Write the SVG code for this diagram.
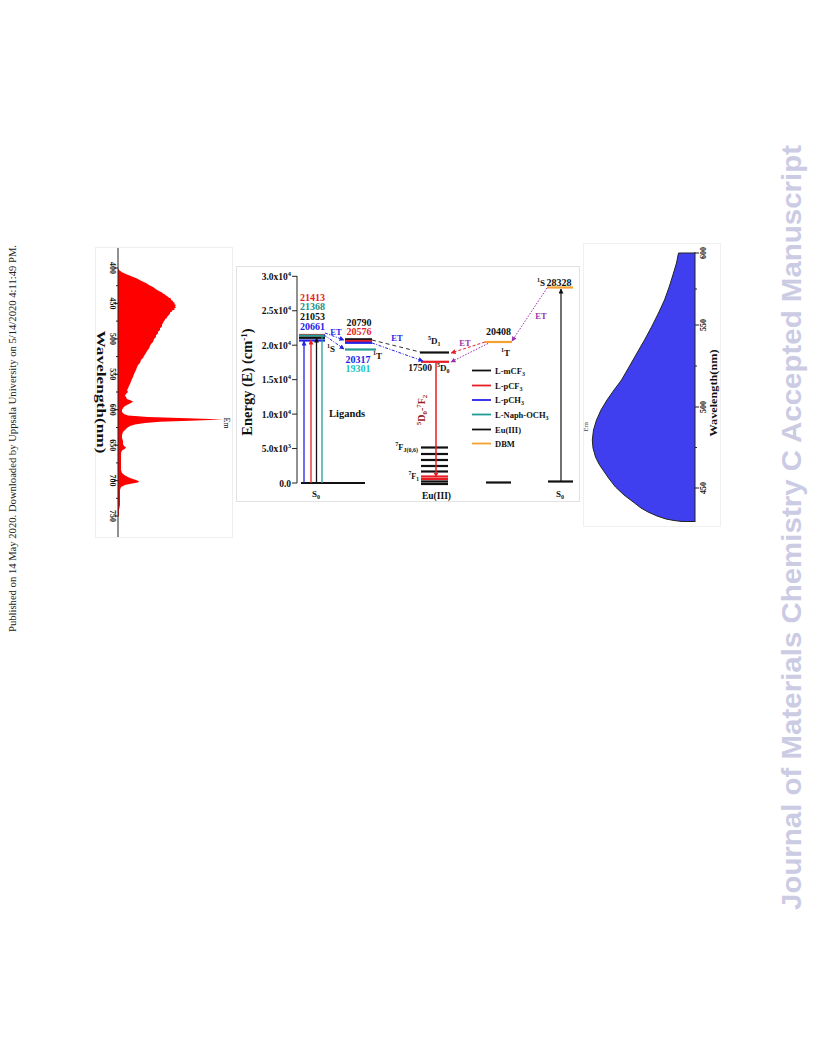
<svg xmlns="http://www.w3.org/2000/svg" width="816" height="1056" viewBox="0 0 816 1056">
<style>
.s{font-family:"Liberation Serif","Times New Roman",serif;font-weight:bold;}
.n{font-family:"Liberation Serif","Times New Roman",serif;}
.lv{stroke-width:2.2;fill:none;}
.k{stroke:#111;} .r{stroke:#e81e25;} .b{stroke:#2323e6;} .g{stroke:#1e9e96;} .o{stroke:#f5a030;}
.ax{stroke:#222;stroke-width:1;fill:none;}
</style>
<defs>
<marker id="aB" viewBox="0 0 10 10" refX="9" refY="5" markerWidth="5" markerHeight="5" orient="auto" markerUnits="userSpaceOnUse"><path d="M0,0L10,5L0,10z" fill="#2323e6"/></marker>
<marker id="aR" viewBox="0 0 10 10" refX="9" refY="5" markerWidth="5" markerHeight="5" orient="auto" markerUnits="userSpaceOnUse"><path d="M0,0L10,5L0,10z" fill="#e81e25"/></marker>
<marker id="aK" viewBox="0 0 10 10" refX="9" refY="5" markerWidth="5" markerHeight="5" orient="auto" markerUnits="userSpaceOnUse"><path d="M0,0L10,5L0,10z" fill="#111"/></marker>
<marker id="aP" viewBox="0 0 10 10" refX="9" refY="5" markerWidth="5" markerHeight="5" orient="auto" markerUnits="userSpaceOnUse"><path d="M0,0L10,5L0,10z" fill="#9b2fae"/></marker>
</defs>
<rect width="816" height="1056" fill="#fff"/>

<!-- margin texts -->
<text class="n" transform="translate(16,632) rotate(-90)" font-size="10.5" textLength="387" lengthAdjust="spacingAndGlyphs" fill="#222">Published on 14 May 2020. Downloaded by Uppsala University on 5/14/2020 4:11:49 PM.</text>
<text transform="translate(801,910) rotate(-90)" font-family="Liberation Sans, Arial, sans-serif" font-weight="bold" font-size="27" textLength="765" lengthAdjust="spacingAndGlyphs" fill="#cbcbe4">Journal of Materials Chemistry C Accepted Manuscript</text>

<!-- left emission spectrum -->
<g id="left-spectrum">
<rect x="95.5" y="247.5" width="137" height="290" fill="#fff" stroke="#eeeeee"/>
<path fill="#ff0000" d="M118,268 L119,270 L122,272.3 L127,274.4 L132,276.5 L137,278.6 L141,280.8 L146,282.9 L149,285 L153,287.1 L156,289.3 L158,290.5 L160,291.4 L162,292.5 L163,293.5 L165,294.5 L166,295.6 L168,296.7 L169,297.8 L171,298.5 L171,299.9 L173,301 L173,302 L175,303 L174,304.1 L176,305 L175,306.3 L176,307.5 L174,308.4 L175,309.5 L172,310.5 L172,311.6 L170,312.6 L170,313.7 L169,314.8 L168,316 L167,316.9 L167,318 L165,319 L165,320 L164,321.1 L163,323 L162,324.7 L162,326.4 L160,328.2 L160,330 L158,331.8 L158,333.5 L156,335.3 L156,337 L154,338.9 L153,342 L151,344 L150,346 L149,348.5 L147,351 L146,353 L144,356 L143,358 L141,360.1 L140,363 L138,365 L137,367.2 L136,370 L135,372 L134,374.3 L133,377 L132,379 L131,381.4 L130,384 L129,386 L128,388.5 L127,390 L128,392 L126,394 L125,395.5 L126,397 L127,399.1 L131,400.5 L133,401.5 L131,403 L128,404.5 L125,406 L123,408 L122,410 L122,412 L124,414 L128,415.5 L148,417 L188,418.3 L223,419.6 L190,420.8 L160,421.8 L145,423 L135,424.5 L130,426 L127,428 L125,430 L123,432 L122,435 L122,438 L123,441 L123,444 L124,446 L126,447.3 L125,448.8 L122,450.5 L121,453 L121,458 L121,465 L121,470 L122,473 L125,475.5 L130,478 L136,480 L139,481.3 L138,482.5 L132,483.5 L125,485 L121,487 L120,490 L120,495 L120,500 L120,505 L119,510 L119,516 L118,517 Z"/>
<line class="ax" x1="118" y1="248" x2="118" y2="537"/>
<path class="ax" d="M114,268H118M114,303.4H118M114,338.9H118M114,374.3H118M114,409.7H118M114,445.2H118M114,480.6H118M114,516H118M116,285.7H118M116,321.1H118M116,356.6H118M116,392H118M116,427.5H118M116,462.9H118M116,498.3H118"/>
<g class="s" font-size="8" text-anchor="middle" fill="#111">
<text transform="translate(110,268) rotate(90)">400</text>
<text transform="translate(110,303.4) rotate(90)">450</text>
<text transform="translate(110,338.9) rotate(90)">500</text>
<text transform="translate(110,374.3) rotate(90)">550</text>
<text transform="translate(110,409.7) rotate(90)">600</text>
<text transform="translate(110,445.2) rotate(90)">650</text>
<text transform="translate(110,480.6) rotate(90)">700</text>
<text transform="translate(110,516) rotate(90)">750</text>
</g>
<text class="s" transform="translate(97,392) rotate(90)" font-size="11.5" text-anchor="middle" textLength="123" lengthAdjust="spacingAndGlyphs" fill="#111">Wavelength(nm)</text>
<text class="n" transform="translate(224,423) rotate(90)" font-size="8" text-anchor="middle" fill="#111">Em</text>
</g>

<!-- right emission spectrum -->
<g id="right-spectrum">
<rect x="583.5" y="243.5" width="137" height="283" fill="#fff" stroke="#f0f0f0"/>
<path fill="#3f3ff0" stroke="#222" stroke-width="1" d="M695,253 L678.5,253 L676.5,263 L673.5,273 L669.5,286 L664.5,300 L658.5,313 L651.5,327 L644.5,340 L637,353 L629,367 L621.5,380 L614,390 L607,400 L601,410 L596.5,420 L593.5,430 L592.3,440 L593,448 L595.5,457 L599,464 L603,470 L608.5,478 L615.5,487 L624,495 L634.5,503 L641,508 L648,512 L657,516 L666,519 L674,520.5 L682,521.5 L695,521.5"/>
<line class="ax" x1="695" y1="252" x2="695" y2="522"/>
<path class="ax" d="M695,488H699M695,407H699M695,325H699M695,253H699M695,447.5H697M695,366H697M695,289H697"/>
<g class="s" font-size="8" text-anchor="middle" fill="#111">
<text transform="translate(706,253) rotate(-90)">600</text>
<text transform="translate(706,325) rotate(-90)">550</text>
<text transform="translate(706,407) rotate(-90)">500</text>
<text transform="translate(706,488) rotate(-90)">450</text>
</g>
<text class="s" transform="translate(717,393) rotate(-90)" font-size="11" text-anchor="middle" textLength="87" lengthAdjust="spacingAndGlyphs" fill="#111">Wavelength(nm)</text>
<text class="n" transform="translate(588,427) rotate(-90)" font-size="7" text-anchor="middle" fill="#555">Em</text>
</g>

<!-- energy diagram panel -->
<g id="energy-panel">
<rect x="236.5" y="266.5" width="343" height="235" fill="#fff" stroke="#e2e2e2"/>
<line class="ax" x1="297" y1="276" x2="297" y2="483"/>
<path class="ax" d="M292,276.3H297M292,310.75H297M292,345.2H297M292,379.65H297M292,414.1H297M292,448.55H297M292,483H297"/>
<g class="s" font-size="9.5" text-anchor="end" fill="#111">
<text x="291" y="279.8">3.0x10<tspan dy="-4" font-size="6.5">4</tspan></text>
<text x="291" y="314.2">2.5x10<tspan dy="-4" font-size="6.5">4</tspan></text>
<text x="291" y="348.7">2.0x10<tspan dy="-4" font-size="6.5">4</tspan></text>
<text x="291" y="383.1">1.5x10<tspan dy="-4" font-size="6.5">4</tspan></text>
<text x="291" y="417.6">1.0x10<tspan dy="-4" font-size="6.5">4</tspan></text>
<text x="291" y="452">5.0x10<tspan dy="-4" font-size="6.5">3</tspan></text>
<text x="291" y="486.5">0.0</text>
</g>
<text class="s" transform="translate(252,382) rotate(-90)" font-size="14.5" text-anchor="middle" fill="#111">Energy (E) (cm<tspan dy="-5" font-size="9">-1</tspan><tspan dy="5">)</tspan></text>
</g>

<!-- ligand levels -->
<g id="ligand-S0">
<line class="lv k" x1="301" y1="483" x2="365" y2="483" stroke-width="1.3"/>
<text class="s" x="316" y="497" font-size="9" text-anchor="middle" fill="#111">S<tspan dy="2" font-size="6">0</tspan></text>
<text class="s" x="329" y="417" font-size="10.5" fill="#111">Ligands</text>
</g>
<g id="ligand-S1">
<line class="lv r" x1="299" y1="335" x2="325" y2="335"/>
<line class="lv g" x1="299" y1="335.6" x2="325" y2="335.6"/>
<line class="lv k" x1="299" y1="337.8" x2="325" y2="337.8"/>
<line class="lv b" x1="299" y1="340.5" x2="325" y2="340.5"/>
<g class="s" font-size="10" text-anchor="middle">
<text x="312.5" y="300.5" fill="#e81e25">21413</text>
<text x="312.5" y="310.3" fill="#1e8f87">21368</text>
<text x="312.5" y="320.1" fill="#111">21053</text>
<text x="312.5" y="329.9" fill="#2323e6">20661</text>
</g>
<text class="s" x="327" y="352" font-size="9" fill="#111"><tspan dy="-4" font-size="6">1</tspan><tspan dy="4">S</tspan></text>
</g>
<g id="ligand-T1">
<line class="lv k" x1="345" y1="339.3" x2="372" y2="339.3"/>
<line class="lv r" x1="345" y1="341" x2="372" y2="341"/>
<line class="lv b" x1="345" y1="342.8" x2="372" y2="342.8"/>
<line class="lv g" x1="345" y1="349.5" x2="376" y2="349.5"/>
<g class="s" font-size="10" text-anchor="middle">
<text x="359" y="326" fill="#111">20790</text>
<text x="359" y="335" fill="#e81e25">20576</text>
<text x="358" y="362.5" fill="#2323e6">20317</text>
<text x="358" y="371.8" fill="#22c2c2">19301</text>
</g>
<text class="s" x="373" y="359" font-size="9" fill="#111"><tspan dy="-4" font-size="6">1</tspan><tspan dy="4">T</tspan></text>
</g>

<!-- Eu(III) levels -->
<g id="eu-5D1">
<line class="lv k" x1="420" y1="352.5" x2="449" y2="352.5"/>
<text class="s" x="428" y="344" font-size="9" fill="#111"><tspan dy="-4" font-size="6">5</tspan><tspan dy="4">D</tspan><tspan dy="2" font-size="6">1</tspan></text>
</g>
<g id="eu-5D0">
<line class="lv r" x1="421" y1="361.8" x2="449" y2="361.8"/>
<text class="s" x="420" y="370.5" font-size="9.5" text-anchor="middle" fill="#111">17500</text>
<text class="s" x="437" y="371" font-size="9" fill="#111"><tspan dy="-4" font-size="6">5</tspan><tspan dy="4">D</tspan><tspan dy="2" font-size="6">0</tspan></text>
</g>
<g id="eu-7FJ">
<line class="lv k" x1="421" y1="447.5" x2="448" y2="447.5"/>
<line class="lv k" x1="421" y1="454" x2="448" y2="454"/>
<line class="lv k" x1="421" y1="460" x2="448" y2="460"/>
<line class="lv k" x1="421" y1="466" x2="448" y2="466"/>
<line class="lv k" x1="421" y1="471.5" x2="448" y2="471.5"/>
<line class="lv r" x1="421" y1="476.5" x2="448" y2="476.5"/>
<line class="lv r" x1="421" y1="479" x2="448" y2="479"/>
<line class="lv k" x1="421" y1="481.5" x2="448" y2="481.5"/>
<line class="lv k" x1="421" y1="484" x2="448" y2="484"/>
<text class="s" x="418" y="450" font-size="8.5" text-anchor="end" fill="#111"><tspan dy="-4" font-size="6">7</tspan><tspan dy="4">F</tspan><tspan dy="2" font-size="6">J(0,6)</tspan></text>
<text class="s" x="419" y="479" font-size="8" text-anchor="end" fill="#111"><tspan dy="-4" font-size="5.5">7</tspan><tspan dy="4">F</tspan><tspan dy="2" font-size="5.5">1</tspan></text>
<text class="s" x="436.5" y="498.5" font-size="9.5" text-anchor="middle" fill="#111">Eu(III)</text>
<text class="s" transform="translate(425,410) rotate(-90)" font-size="10" text-anchor="middle" fill="#9b1b1f"><tspan dy="-4" font-size="7">5</tspan><tspan dy="4">D</tspan><tspan dy="2" font-size="7">0</tspan><tspan dy="-2">-</tspan><tspan dy="-4" font-size="7">7</tspan><tspan dy="4">F</tspan><tspan dy="2" font-size="7">2</tspan></text>
</g>

<!-- DBM levels -->
<g id="dbm-T1">
<line class="lv o" x1="485" y1="342" x2="512" y2="342"/>
<text class="s" x="498.5" y="334.5" font-size="10" text-anchor="middle" fill="#111">20408</text>
<text class="s" x="501" y="356" font-size="9" fill="#111"><tspan dy="-4" font-size="6">1</tspan><tspan dy="4">T</tspan></text>
</g>
<g id="dbm-S1">
<line class="lv o" x1="547" y1="287.5" x2="573" y2="287.5"/>
<text class="s" x="537" y="286" font-size="9" fill="#111"><tspan dy="-4" font-size="6">1</tspan><tspan dy="4">S</tspan></text>
<text class="s" x="559" y="285.5" font-size="10" text-anchor="middle" fill="#111">28328</text>
</g>
<g id="dbm-S0">
<line class="lv k" x1="548" y1="481.5" x2="573" y2="481.5" stroke-width="1.3"/>
<line class="lv k" x1="486" y1="482.5" x2="511" y2="482.5" stroke-width="1.3"/>
<text class="s" x="560" y="497" font-size="9" text-anchor="middle" fill="#111">S<tspan dy="2" font-size="6">0</tspan></text>
</g>

<!-- legend -->
<g id="legend" class="s" font-size="8.5" fill="#111">
<line class="k" stroke-width="1.8" x1="472" y1="370.5" x2="491" y2="370.5"/>
<line class="r" stroke-width="1.8" x1="472" y1="385.5" x2="491" y2="385.5"/>
<line class="b" stroke-width="1.8" x1="472" y1="400" x2="491" y2="400"/>
<line class="g" stroke-width="1.8" x1="472" y1="414.5" x2="491" y2="414.5"/>
<line class="k" stroke-width="1.8" x1="472" y1="429.5" x2="491" y2="429.5"/>
<line class="o" stroke-width="1.8" x1="472" y1="443.5" x2="491" y2="443.5"/>
<text x="495" y="373.5">L-mCF<tspan dy="2" font-size="6">3</tspan></text>
<text x="495" y="388.5">L-pCF<tspan dy="2" font-size="6">3</tspan></text>
<text x="495" y="403">L-pCH<tspan dy="2" font-size="6">3</tspan></text>
<text x="495" y="417.5">L-Naph-OCH<tspan dy="2" font-size="6">3</tspan></text>
<text x="495" y="432.5">Eu(III)</text>
<text x="495" y="446.5">DBM</text>
</g>

<!-- connectors -->
<g id="connectors" fill="none">
<line x1="304" y1="483" x2="304" y2="341" stroke="#2323e6" stroke-width="1.3" marker-end="url(#aB)"/>
<line x1="311" y1="483" x2="311" y2="340" stroke="#e81e25" stroke-width="1.3" marker-end="url(#aR)"/>
<line x1="316.5" y1="483" x2="316.5" y2="338" stroke="#111" stroke-width="1.3" marker-end="url(#aK)"/>
<line x1="322" y1="483" x2="322" y2="336" stroke="#1e9e96" stroke-width="1.3"/>
<line x1="561" y1="481" x2="561" y2="289" stroke="#111" stroke-width="1.2" marker-end="url(#aK)"/>
<line x1="436" y1="362" x2="436" y2="477" stroke="#e81e25" stroke-width="1.5" marker-end="url(#aR)"/>
<line x1="325" y1="333" x2="344" y2="340" stroke="#2323e6" stroke-width="1" stroke-dasharray="3 1.5 1 1.5" marker-end="url(#aB)"/>
<line x1="324" y1="335" x2="344" y2="349" stroke="#2323e6" stroke-width="1" stroke-dasharray="3 1.5 1 1.5" marker-end="url(#aB)"/>
<line x1="372" y1="340" x2="420" y2="352" stroke="#333" stroke-width="1" stroke-dasharray="4 3"/>
<line x1="372" y1="343" x2="423" y2="361" stroke="#2323e6" stroke-width="1" stroke-dasharray="3 1.5 1 1.5" marker-end="url(#aB)"/>
<line x1="485" y1="342" x2="451" y2="353" stroke="#e81e25" stroke-width="1" stroke-dasharray="3 2" marker-end="url(#aR)"/>
<line x1="488" y1="343.5" x2="451" y2="362" stroke="#9b2fae" stroke-width="1" stroke-dasharray="1.5 1.5" marker-end="url(#aP)"/>
<line x1="547" y1="288" x2="512" y2="341" stroke="#9b2fae" stroke-width="1" stroke-dasharray="1.5 1.5" marker-end="url(#aP)"/>
<g class="s" font-size="8.5">
<text x="336" y="335" text-anchor="middle" fill="#2323e6">ET</text>
<text x="397" y="341" text-anchor="middle" fill="#2323e6">ET</text>
<text x="465" y="346" text-anchor="middle" fill="#9b2fae">ET</text>
<text x="541" y="319" text-anchor="middle" fill="#9b2fae">ET</text>
</g>
</g>
</svg>
